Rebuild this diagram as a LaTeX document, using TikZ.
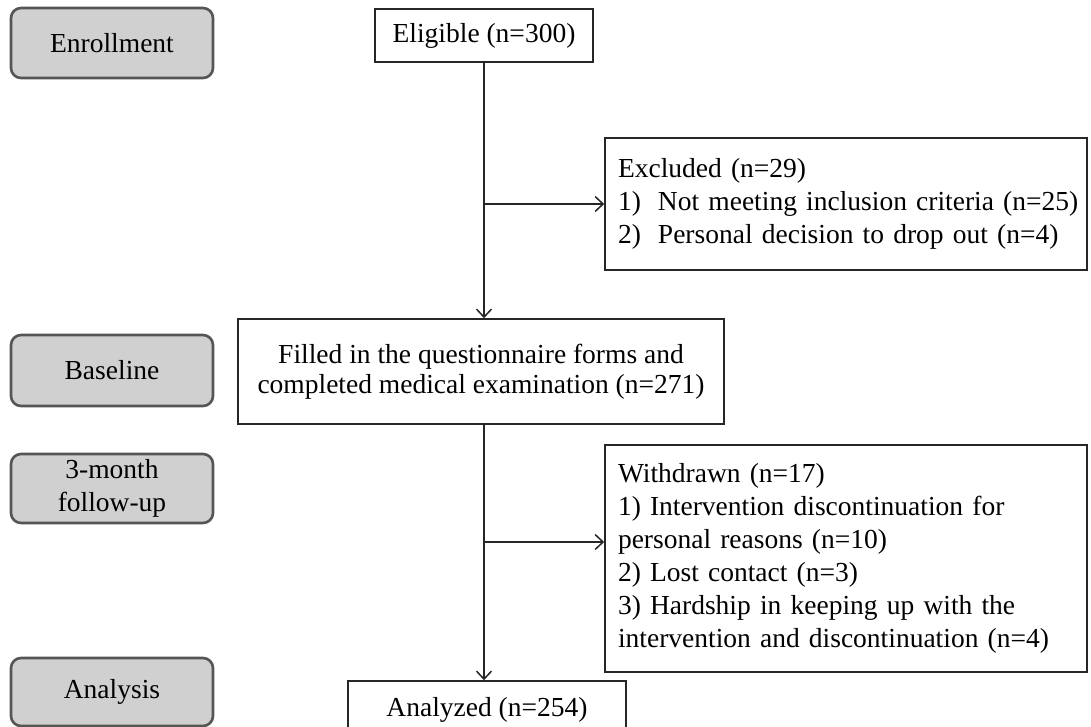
\documentclass[tikz,border=0pt]{standalone}
\usepackage{fontspec}
\setmainfont{Liberation Serif}
\usetikzlibrary{arrows.meta}
\definecolor{stagefill}{HTML}{D0D0D0}
\definecolor{stageline}{HTML}{555555}
\begin{document}
\begin{tikzpicture}[x=1pt,y=-1pt,
  every node/.style={font=\fontsize{27.5}{33}\selectfont},
  stage/.style={draw=stageline, line width=2.6pt, fill=stagefill, rounded corners=10pt,
    minimum width=202pt, align=center, inner sep=0pt},
  flowbox/.style={draw=black!85, line width=1.6pt, inner sep=0pt, align=center},
  listbox/.style={draw=black!85, line width=1.6pt, inner xsep=13pt, inner ysep=0pt,
    align=left, text width=456pt, minimum width=482pt},
  flow/.style={line width=1.5pt, draw=black!85},
  arr/.style={flow, -{Straight Barb[length=8pt,width=15pt,line width=1.5pt]}}]
\useasboundingbox (0,0) rectangle (1091,727);
\fill[white] (0,0) rectangle (1091,727);

% stage labels
\node[stage, minimum height=70pt] (enr) at (112,43) {Enrollment};
\node[stage, minimum height=71pt] (bas) at (112,370.5) {Baseline};
\node[stage, minimum height=69pt] (fu) at (112,488.5) {3-month\\follow-up};
\node[stage, minimum height=68pt] (anl) at (112,692) {Analysis};

% flow boxes
\node[flowbox, minimum width=218pt, minimum height=53pt] (elig) at (484,35.5) {Eligible (n=300)};
\node[flowbox, minimum width=486pt, minimum height=105pt,
  font=\fontsize{27.5}{29.5}\selectfont] (fill) at (481,371.5)
  {Filled in the questionnaire forms and\\completed medical examination (n=271)};
\node[flowbox, minimum width=278pt, minimum height=58pt] (anz) at (487,710) {Analyzed (n=254)};

\node[listbox, minimum height=132pt] (excl) at (846,204)
  {\mbox{Excluded (n=29)}\\
   \mbox{\makebox[40pt][l]{1)}Not meeting inclusion criteria (n=25)}\\
   \mbox{\makebox[40pt][l]{2)}Personal decision to drop out (n=4)}};
\node[listbox, minimum height=227pt] (wd) at (846,558.5)
  {\mbox{Withdrawn (n=17)}\\
   \mbox{1) Intervention discontinuation for}\\
   \mbox{personal reasons (n=10)}\\
   \mbox{2) Lost contact (n=3)}\\
   \mbox{3) Hardship in keeping up with the}\\
   \mbox{intervention and discontinuation (n=4)}};

% connectors
\coordinate (j1) at (elig.south |- excl.west);
\coordinate (j2) at ([yshift=16.5pt]elig.south |- wd.west);
\draw[arr] (elig.south) -- (elig.south |- fill.north);
\draw[arr] (j1) -- (excl.west);
\draw[arr] (elig.south |- fill.south) -- (elig.south |- anz.north);
\draw[arr] (j2) -- (j2 -| wd.west);
\end{tikzpicture}
\end{document}
